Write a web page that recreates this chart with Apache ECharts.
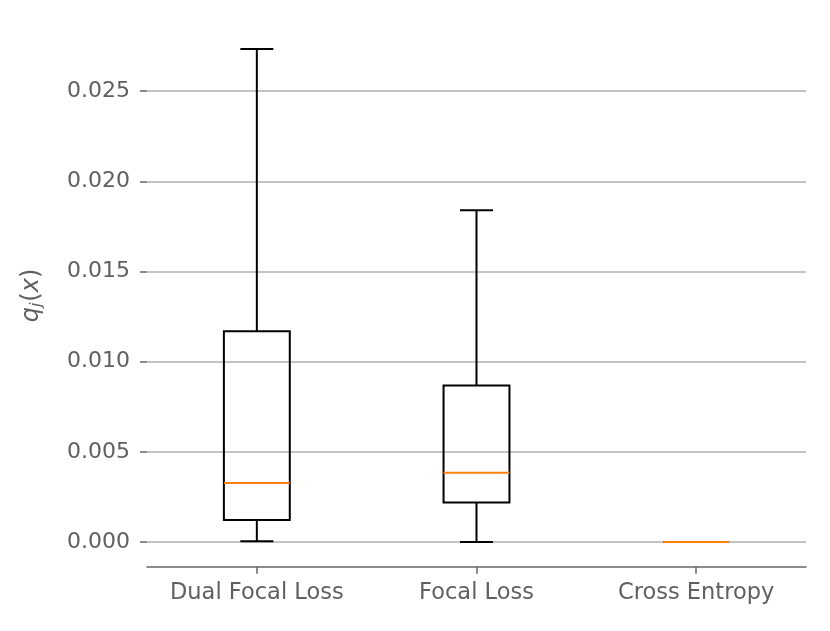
<!DOCTYPE html>
<html>
<head>
<meta charset="utf-8">
<script src="https://cdn.jsdelivr.net/npm/echarts@6/dist/echarts.min.js"></script>
<style>html,body{margin:0;padding:0;background:#fff}#c{width:830px;height:631px}</style>
</head>
<body>
<div id="c"></div>
<script>
const categories = ['Dual Focal Loss', 'Focal Loss', 'Cross Entropy'];
const whiskerLow = [0.00004, 0.0, 0.0];
const q1 = [0.00122, 0.00219, 0.0];
const median = [0.00327, 0.00385, 0.0];
const q3 = [0.01169, 0.00868, 0.0];
const whiskerHigh = [0.02734, 0.01840, 0.0];
const yTicks = [0, 0.005, 0.010, 0.015, 0.020, 0.025];

const data = categories.map((c, i) => [i, whiskerLow[i], q1[i], median[i], q3[i], whiskerHigh[i]]);

const FONT = 'DejaVu Sans';
const chart = echarts.init(document.getElementById('c'), null, {renderer: 'canvas'});

function renderItem(params, api) {
  const i = api.value(0);
  const band = api.size([1, 0])[0];
  const bw = band * 0.30;
  const cw = bw * 0.5;
  const pLow = api.coord([i, api.value(1)]);
  const pQ1 = api.coord([i, api.value(2)]);
  const pMed = api.coord([i, api.value(3)]);
  const pQ3 = api.coord([i, api.value(4)]);
  const pHigh = api.coord([i, api.value(5)]);
  const x = pMed[0];
  const black = {stroke: '#000', lineWidth: 2, fill: null};
  return {
    type: 'group',
    children: [
      {type: 'line', shape: {x1: x, y1: pQ1[1], x2: x, y2: pLow[1]}, style: black},
      {type: 'line', shape: {x1: x, y1: pQ3[1], x2: x, y2: pHigh[1]}, style: black},
      {type: 'line', shape: {x1: x - cw / 2, y1: pLow[1], x2: x + cw / 2, y2: pLow[1]}, style: black},
      {type: 'line', shape: {x1: x - cw / 2, y1: pHigh[1], x2: x + cw / 2, y2: pHigh[1]}, style: black},
      {type: 'rect', shape: {x: x - bw / 2, y: pQ3[1], width: bw, height: pQ1[1] - pQ3[1]}, style: {stroke: '#000', lineWidth: 2, fill: 'none'}},
      {type: 'line', shape: {x1: x - bw / 2, y1: pMed[1], x2: x + bw / 2, y2: pMed[1]}, style: {stroke: '#ff7f0e', lineWidth: 2}}
    ]
  };
}

chart.setOption({
  animation: false,
  grid: {left: 147, right: 24, top: 24.4, bottom: 64.3, containLabel: false},
  xAxis: {
    type: 'category',
    data: categories,
    boundaryGap: true,
    axisLine: {show: true, onZero: false, lineStyle: {color: '#666', width: 1.6}},
    axisTick: {show: true, alignWithLabel: true, length: 7, lineStyle: {color: '#666', width: 1.5}},
    axisLabel: {color: '#606060', fontFamily: FONT, fontSize: 22.5, margin: 15, interval: 0},
    splitLine: {show: false}
  },
  yAxis: {
    type: 'value',
    min: -0.001367,
    max: 0.028707,
    minInterval: 0.005,
    maxInterval: 0.005,
    axisLine: {show: false},
    axisTick: {show: true, length: 7, customValues: yTicks, lineStyle: {color: '#666', width: 1.5}},
    axisLabel: {
      color: '#606060', fontFamily: FONT, fontSize: 22, margin: 17,
      customValues: yTicks,
      formatter: v => v.toFixed(3)
    },
    splitLine: {show: true, lineStyle: {color: '#b0b0b0', width: 1.5}},
    name: '{q|q}{j|j}{p|(}{q|x}{p|)}',
    nameLocation: 'middle',
    nameRotate: 90,
    nameGap: 102,
    nameTextStyle: {
      color: '#606060',
      rich: {
        q: {fontFamily: FONT, fontStyle: 'italic', fontSize: 24, color: '#606060'},
        p: {fontFamily: FONT, fontSize: 24, color: '#606060'},
        j: {fontFamily: FONT, fontStyle: 'italic', fontSize: 16, color: '#606060', verticalAlign: 'bottom', padding: [11, 1, 0, 0]}
      }
    }
  },
  series: [{
    type: 'custom',
    renderItem: renderItem,
    encode: {x: 0, y: [1, 2, 3, 4, 5]},
    data: data,
    z: 5
  }]
});
</script>
</body>
</html>
